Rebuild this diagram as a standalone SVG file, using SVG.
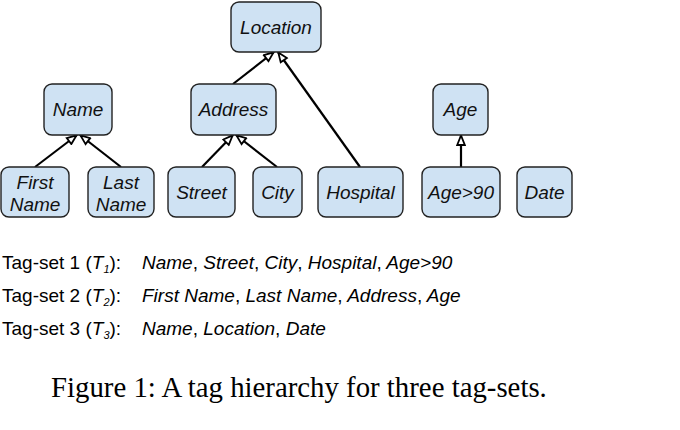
<svg xmlns="http://www.w3.org/2000/svg" width="680" height="430" viewBox="0 0 680 430">
<defs>
<style>
.box{fill:#cfe2f3;stroke:#222;stroke-width:1.4}
.lbl{font-family:"Liberation Sans",Arial,sans-serif;font-style:italic;font-size:19px;fill:#111;text-anchor:middle}
.edge{stroke:#000;stroke-width:2.2;fill:none;marker-end:url(#tri)}
.tx{font-family:"Liberation Sans",Arial,sans-serif;font-size:19px;fill:#000}
.it{font-style:italic}
.cap{font-family:"Liberation Serif","Times New Roman",serif;font-size:28.8px;fill:#000}
</style>
<marker id="tri" viewBox="0 0 12 10" refX="11.5" refY="5" markerWidth="12" markerHeight="10" markerUnits="userSpaceOnUse" orient="auto">
<path d="M1.5,1.2 L11,5 L1.5,8.8 Z" fill="#fff" stroke="#000" stroke-width="1.8" stroke-linejoin="miter"/>
</marker>
</defs>
<g id="connectors">
<line class="edge" x1="35" y1="167" x2="77" y2="135"/>
<line class="edge" x1="121" y1="167" x2="80" y2="135"/>
<line class="edge" x1="202" y1="167" x2="233" y2="135"/>
<line class="edge" x1="277" y1="167" x2="236" y2="135"/>
<line class="edge" x1="233" y1="84" x2="274" y2="52"/>
<line class="edge" x1="360" y1="167" x2="278" y2="52"/>
<line class="edge" x1="461" y1="167" x2="461" y2="135"/>
</g>
<g id="location"><rect class="box" x="231" y="2" width="90" height="50" rx="8"/><text class="lbl" x="276" y="34">Location</text></g>
<g id="name"><rect class="box" x="44" y="84" width="68" height="51" rx="8"/><text class="lbl" x="78" y="116">Name</text></g>
<g id="address"><rect class="box" x="191" y="84" width="85" height="51" rx="8"/><text class="lbl" x="233.5" y="116">Address</text></g>
<g id="age"><rect class="box" x="433" y="84" width="55" height="51" rx="8"/><text class="lbl" x="460.5" y="116">Age</text></g>
<g id="firstname"><rect class="box" x="1" y="167" width="68" height="50" rx="8"/><text class="lbl" x="35" y="189">First</text><text class="lbl" x="35" y="211">Name</text></g>
<g id="lastname"><rect class="box" x="88" y="167" width="66" height="50" rx="8"/><text class="lbl" x="121" y="189">Last</text><text class="lbl" x="121" y="211">Name</text></g>
<g id="street"><rect class="box" x="168" y="167" width="67" height="50" rx="8"/><text class="lbl" x="201.5" y="199">Street</text></g>
<g id="city"><rect class="box" x="253" y="167" width="49" height="50" rx="8"/><text class="lbl" x="277.5" y="199">City</text></g>
<g id="hospital"><rect class="box" x="318" y="167" width="85" height="50" rx="8"/><text class="lbl" x="360.5" y="199">Hospital</text></g>
<g id="age90"><rect class="box" x="422" y="167" width="78" height="50" rx="8"/><text class="lbl" x="461" y="199">Age&gt;90</text></g>
<g id="date"><rect class="box" x="517" y="167" width="55" height="50" rx="8"/><text class="lbl" x="544.5" y="199">Date</text></g>
<text class="tx" x="2" y="269">Tag-set 1 (<tspan class="it">T</tspan><tspan class="it" font-size="11" dy="4">1</tspan><tspan dy="-4">):</tspan></text>
<text class="tx it" x="142" y="269">Name<tspan font-style="normal">,</tspan> Street<tspan font-style="normal">,</tspan> City<tspan font-style="normal">,</tspan> Hospital<tspan font-style="normal">,</tspan> Age&gt;90</text>
<text class="tx" x="2" y="302">Tag-set 2 (<tspan class="it">T</tspan><tspan class="it" font-size="11" dy="4">2</tspan><tspan dy="-4">):</tspan></text>
<text class="tx it" x="142" y="302">First Name<tspan font-style="normal">,</tspan> Last Name<tspan font-style="normal">,</tspan> Address<tspan font-style="normal">,</tspan> Age</text>
<text class="tx" x="2" y="335">Tag-set 3 (<tspan class="it">T</tspan><tspan class="it" font-size="11" dy="4">3</tspan><tspan dy="-4">):</tspan></text>
<text class="tx it" x="142" y="335">Name<tspan font-style="normal">,</tspan> Location<tspan font-style="normal">,</tspan> Date</text>
<text class="cap" x="51" y="397">Figure 1: A tag hierarchy for three tag-sets.</text>
</svg>
